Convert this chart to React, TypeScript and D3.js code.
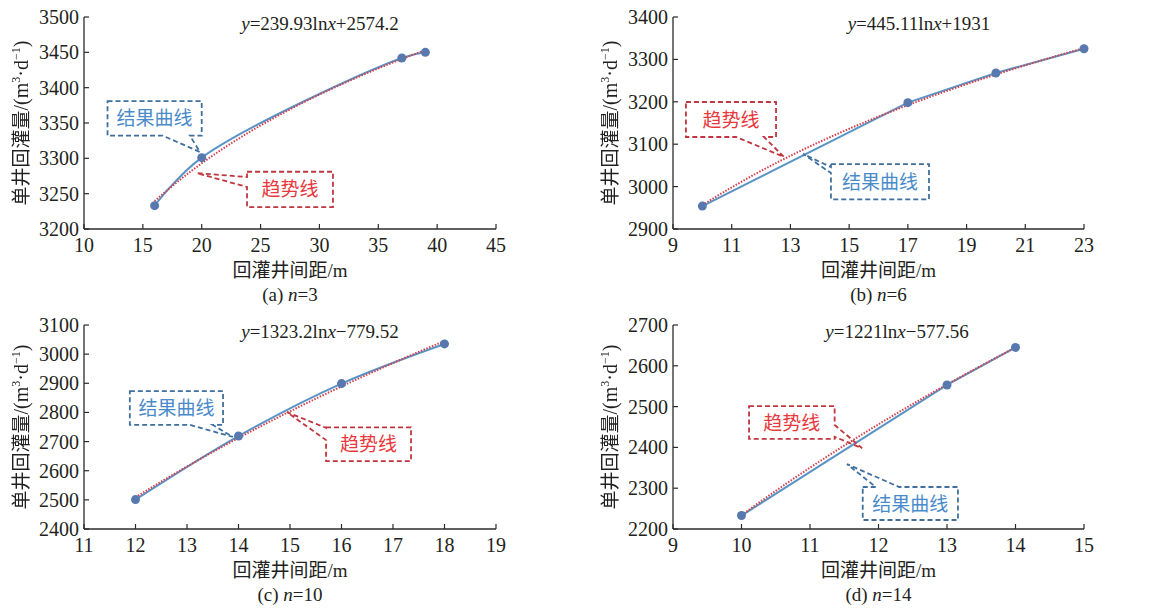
import React from 'react';
import * as d3 from 'd3';

// ---------- data ----------
const aSpacing = [16, 20, 37, 39];
const aInjection = [3233, 3301, 3442, 3450];
const bSpacing = [10, 17, 20, 23];
const bInjection = [2954, 3198, 3268, 3325];
const cSpacing = [12, 14, 16, 18];
const cInjection = [2501, 2719, 2899, 3035];
const dSpacing = [10, 13, 14];
const dInjection = [2233, 2553, 2645];

const aXTicks = [10, 15, 20, 25, 30, 35, 40, 45];
const aYTicks = [3200, 3250, 3300, 3350, 3400, 3450, 3500];
const bXTicks = [9, 11, 13, 15, 17, 19, 21, 23];
const bYTicks = [2900, 3000, 3100, 3200, 3300, 3400];
const cXTicks = [11, 12, 13, 14, 15, 16, 17, 18, 19];
const cYTicks = [2400, 2500, 2600, 2700, 2800, 2900, 3000, 3100];
const dXTicks = [9, 10, 11, 12, 13, 14, 15];
const dYTicks = [2200, 2300, 2400, 2500, 2600, 2700];

// trend: y = slope * ln(x) + intercept
const trendSlope = [239.93, 445.11, 1323.2, 1221];
const trendIntercept = [2574.2, 1931, -779.52, -577.56];
const eqSlopeText = ['239.93', '445.11', '1323.2', '1221'];
const eqInterceptText = ['+2574.2', '+1931', '\u2212779.52', '\u2212577.56'];
const captionLetters = ['(a)', '(b)', '(c)', '(d)'];
const captionN = ['3', '6', '10', '14'];

const yTitleCJK = '单井回灌量';
const xTitleCJK = '回灌井间距';
const blueLabel = '结果曲线';
const redLabel = '趋势线';

// callouts in data units: box [x0,x1], [yLo,yHi], side, base (two values along side), tip [x,y]
type Callout = { kind: 'blue' | 'red'; bx: number[]; by: number[]; side: string; base: number[]; tip: number[] };
const calloutsA: Callout[] = [
  { kind: 'blue', bx: [12, 20], by: [3332, 3381], side: 'bottom', base: [16.7, 19.0], tip: [19.85, 3309] },
  { kind: 'red', bx: [23.85, 31.15], by: [3231, 3281], side: 'left', base: [3259.5, 3273.6], tip: [19.6, 3279] },
];
const calloutsB: Callout[] = [
  { kind: 'red', bx: [9.44, 12.51], by: [3117, 3199.5], side: 'bottom', base: [11.15, 12.1], tip: [12.78, 3070] },
  { kind: 'blue', bx: [14.38, 17.72], by: [2970, 3053], side: 'left', base: [3032, 3046], tip: [13.43, 3077] },
];
const calloutsC: Callout[] = [
  { kind: 'blue', bx: [11.89, 13.7], by: [2757, 2873], side: 'bottom', base: [13.06, 13.5], tip: [13.89, 2716] },
  { kind: 'red', bx: [15.7, 17.35], by: [2633, 2749], side: 'left', base: [2705, 2747], tip: [14.94, 2801] },
];
const calloutsD: Callout[] = [
  { kind: 'red', bx: [10.11, 11.36], by: [2421, 2501], side: 'right', base: [2426, 2455], tip: [11.76, 2398] },
  { kind: 'blue', bx: [11.77, 13.16], by: [2222, 2303], side: 'top', base: [11.96, 12.3], tip: [11.54, 2359] },
];

// ---------- styles ----------
const SERIF = '"Liberation Serif", "Times New Roman", serif';
const CJK = '"Noto Sans CJK SC", sans-serif';
const AXIS = '#2b2b2b';
const TEXT = '#231f20';
const LINE_BLUE = '#5a94c6';
const MARK_BLUE = '#5779b0';
const TREND_RED = '#d2404c';
const BOX_BLUE = '#3f6f9c';
const TXT_BLUE = '#4a8bc9';
const BOX_RED = '#c0363e';
const TXT_RED = '#e8383d';

type PanelProps = {
  idx: number;
  xs: number[];
  ys: number[];
  xTicks: number[];
  yTicks: number[];
  left: number;
  right: number;
  top: number;
  bottom: number;
  eqX: number;
  curve: any;
  callouts: Callout[];
};

function Panel(p: PanelProps) {
  const x = d3.scaleLinear().domain([p.xTicks[0], p.xTicks[p.xTicks.length - 1]]).range([p.left, p.right]);
  const y = d3.scaleLinear().domain([p.yTicks[0], p.yTicks[p.yTicks.length - 1]]).range([p.bottom, p.top]);
  const pts: [number, number][] = p.xs.map((v, i) => [v, p.ys[i]]);
  const line = d3.line<[number, number]>().x(d => x(d[0])).y(d => y(d[1])).curve(p.curve);
  const a = trendSlope[p.idx], b = trendIntercept[p.idx];
  const x0 = p.xs[0], x1 = p.xs[p.xs.length - 1];
  const trendPts: [number, number][] = d3.range(0, 101).map(i => {
    const xv = x0 + ((x1 - x0) * i) / 100;
    return [xv, a * Math.log(xv) + b];
  });
  const trend = d3.line<[number, number]>().x(d => x(d[0])).y(d => y(d[1]));
  const tickLen = 5;
  const cx = (p.left + p.right) / 2;
  const cy = (p.top + p.bottom) / 2;

  const calloutPath = (c: Callout) => {
    const X0 = x(c.bx[0]), X1 = x(c.bx[1]);
    const Y0 = y(c.by[1]), Y1 = y(c.by[0]);
    const tx = x(c.tip[0]), ty = y(c.tip[1]);
    if (c.side === 'bottom') {
      const bA = x(c.base[0]), bB = x(c.base[1]);
      return `M${X0},${Y0}H${X1}V${Y1}H${bB}L${tx},${ty}L${bA},${Y1}H${X0}Z`;
    }
    if (c.side === 'top') {
      const bA = x(c.base[0]), bB = x(c.base[1]);
      return `M${X0},${Y0}H${bA}L${tx},${ty}L${bB},${Y0}H${X1}V${Y1}H${X0}Z`;
    }
    const ya = y(c.base[1]), yb = y(c.base[0]);
    if (c.side === 'left') {
      return `M${X0},${Y0}H${X1}V${Y1}H${X0}V${yb}L${tx},${ty}L${X0},${ya}Z`;
    }
    return `M${X0},${Y0}H${X1}V${ya}L${tx},${ty}L${X1},${yb}V${Y1}H${X0}Z`;
  };

  return (
    <g>
      {/* axes */}
      <line x1={p.left} x2={p.right} y1={p.bottom} y2={p.bottom} stroke={AXIS} strokeWidth={1.3} />
      <line x1={p.left} x2={p.left} y1={p.top} y2={p.bottom} stroke={AXIS} strokeWidth={1.3} />
      {p.xTicks.map(t => (
        <g key={'xt' + t}>
          <line x1={x(t)} x2={x(t)} y1={p.bottom} y2={p.bottom - tickLen} stroke={AXIS} strokeWidth={1.2} />
          <text x={x(t)} y={p.bottom + 23} textAnchor="middle" fontFamily={SERIF} fontSize={20} fill={TEXT}>{t}</text>
        </g>
      ))}
      {p.yTicks.map(t => (
        <g key={'yt' + t}>
          <line x1={p.left} x2={p.left + tickLen} y1={y(t)} y2={y(t)} stroke={AXIS} strokeWidth={1.2} />
          <text x={p.left - 5} y={y(t) + 7} textAnchor="end" fontFamily={SERIF} fontSize={20} fill={TEXT}>{t}</text>
        </g>
      ))}
      {/* titles */}
      <text x={cx} y={p.bottom + 48} textAnchor="middle" fontFamily={SERIF} fontSize={19} fill={TEXT}>
        <tspan fontFamily={CJK}>{xTitleCJK}</tspan>/m
      </text>
      <text x={cx} y={p.bottom + 72} textAnchor="middle" fontFamily={SERIF} fontSize={19} fill={TEXT}>
        {captionLetters[p.idx] + ' '}<tspan fontStyle="italic">n</tspan>{'=' + captionN[p.idx]}
      </text>
      <g filter="url(#gray)">
        <text
          transform={`translate(${p.left - 56},${cy}) rotate(-90)`}
          textAnchor="middle"
          fontFamily={SERIF}
          fontSize={20}
          fill={TEXT}
        >
          <tspan fontFamily={CJK} fontSize={19}>{yTitleCJK}</tspan>
          <tspan>/(m</tspan>
          <tspan fontSize={12} dy={-8}>3</tspan>
          <tspan dy={8}>·d</tspan>
          <tspan fontSize={12} dy={-8}>−1</tspan>
          <tspan dy={8}>)</tspan>
        </text>
      </g>
      {/* equation */}
      <text x={p.eqX} y={p.top + 13} textAnchor="middle" fontFamily={SERIF} fontSize={19} fill={TEXT}>
        <tspan fontStyle="italic">y</tspan>{'=' + eqSlopeText[p.idx] + 'ln'}<tspan fontStyle="italic">x</tspan>{eqInterceptText[p.idx]}
      </text>
      {/* curves */}
      <path d={line(pts) || ''} fill="none" stroke={LINE_BLUE} strokeWidth={2} />
      <path d={trend(trendPts) || ''} fill="none" stroke={TREND_RED} strokeWidth={2} strokeDasharray="1.5,1.5" />
      {pts.map((d, i) => (
        <circle key={'m' + i} cx={x(d[0])} cy={y(d[1])} r={4.5} fill={MARK_BLUE} />
      ))}
      {/* callouts */}
      {p.callouts.map((c, i) => (
        <g key={'c' + i}>
          <path d={calloutPath(c)} fill="none" stroke={c.kind === 'blue' ? BOX_BLUE : BOX_RED} strokeWidth={1.8} strokeDasharray="5,3" />
          <text
            x={(x(c.bx[0]) + x(c.bx[1])) / 2}
            y={(y(c.by[0]) + y(c.by[1])) / 2 + 7}
            textAnchor="middle"
            fontFamily={CJK}
            fontSize={19}
            fill={c.kind === 'blue' ? TXT_BLUE : TXT_RED}
          >
            {c.kind === 'blue' ? blueLabel : redLabel}
          </text>
        </g>
      ))}
    </g>
  );
}

export default function App() {
  return (
    <svg width={1152} height={611} style={{ position: 'absolute', left: 0, top: 0, background: '#fff' }}>
      <defs>
        <filter id="gray" x="-10%" y="-10%" width="120%" height="120%">
          <feColorMatrix type="saturate" values="0" />
        </filter>
      </defs>
      <rect width={1152} height={611} fill="#fff" />
      <Panel idx={0} xs={aSpacing} ys={aInjection} xTicks={aXTicks} yTicks={aYTicks} left={84} right={496} top={17} bottom={229} eqX={320} curve={d3.curveCatmullRom} callouts={calloutsA} />
      <Panel idx={1} xs={bSpacing} ys={bInjection} xTicks={bXTicks} yTicks={bYTicks} left={673} right={1084} top={17} bottom={229} eqX={919} curve={d3.curveLinear} callouts={calloutsB} />
      <Panel idx={2} xs={cSpacing} ys={cInjection} xTicks={cXTicks} yTicks={cYTicks} left={84} right={496} top={325} bottom={529} eqX={320} curve={d3.curveCatmullRom} callouts={calloutsC} />
      <Panel idx={3} xs={dSpacing} ys={dInjection} xTicks={dXTicks} yTicks={dYTicks} left={673} right={1084} top={325} bottom={529} eqX={897} curve={d3.curveLinear} callouts={calloutsD} />
    </svg>
  );
}
